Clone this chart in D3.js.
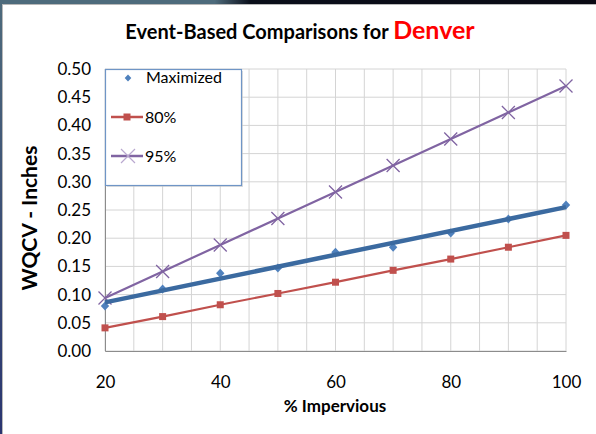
<!DOCTYPE html>
<html>
<head>
<meta charset="utf-8">
<script src="https://cdn.jsdelivr.net/npm/d3@7"></script>
<style>
  body { margin: 0; background: #fff; }
  svg { display: block; font-family: Lato, "Open Sans", sans-serif; }
</style>
</head>
<body>
<script>
// data
let impervious = [20, 30, 40, 50, 60, 70, 80, 90, 100];
let maximized = [0.080, 0.110, 0.138, 0.147, 0.175, 0.184, 0.209, 0.234, 0.259];
let pct80 = [0.041, 0.061, 0.082, 0.102, 0.122, 0.143, 0.163, 0.184, 0.205];
let pct95 = [0.094, 0.141, 0.188, 0.235, 0.282, 0.329, 0.376, 0.423, 0.470];
let yTicks = [0, 0.05, 0.10, 0.15, 0.20, 0.25, 0.30, 0.35, 0.40, 0.45, 0.50];
let xTicks = [20, 40, 60, 80, 100];
let xGrid = d3.range(20, 101, 5);

let W = 596, H = 434;
let margin = { top: 69, right: 30, bottom: 83, left: 105 };
let width = W - margin.left - margin.right;
let height = H - margin.top - margin.bottom;

let root = d3.select('body').append('svg')
    .attr('width', W)
    .attr('height', H);

// slide frame bits
let defs = root.append('defs');
let lg = defs.append('linearGradient').attr('id', 'edge').attr('x1', 0).attr('y1', 0).attr('x2', 0).attr('y2', 1);
lg.append('stop').attr('offset', 0).attr('stop-color', '#4e6b7c');
lg.append('stop').attr('offset', 1).attr('stop-color', '#2a3570');
let tg = defs.append('linearGradient').attr('id', 'topedge');
tg.append('stop').attr('offset', 0).attr('stop-color', '#4e6b7c');
tg.append('stop').attr('offset', 0.36).attr('stop-color', '#4e6b7c');
tg.append('stop').attr('offset', 0.42).attr('stop-color', '#0a0e1a');
tg.append('stop').attr('offset', 1).attr('stop-color', '#0a0a14');
root.append('rect').attr('x', 0).attr('y', 0).attr('width', W).attr('height', 4).attr('fill', 'url(#topedge)');
root.append('rect').attr('x', 0).attr('y', 4).attr('width', W).attr('height', 1).attr('fill', '#b8b8b8');
root.append('rect').attr('x', 0).attr('y', 0).attr('width', 2).attr('height', H).attr('fill', 'url(#edge)');
root.append('rect').attr('x', 2).attr('y', 4).attr('width', 1).attr('height', H).attr('fill', '#b8b8b8');

// title
let title = root.append('text')
    .attr('x', 300).attr('y', 39)
    .attr('text-anchor', 'middle')
    .attr('font-weight', 'bold');
title.append('tspan').attr('font-size', 20).attr('fill', '#000').text('Event-Based Comparisons for ');
title.append('tspan').attr('font-size', 25).attr('fill', '#ff0000').text('Denver');

let svg = root.append('g')
    .attr('transform', 'translate(' + margin.left + ',' + margin.top + ')');

let x = d3.scaleLinear().domain([20, 100]).range([0, width]);
let y = d3.scaleLinear().domain([0, 0.5]).range([height, 0]);

// gridlines
svg.append('g').selectAll('line').data(yTicks).enter().append('line')
    .attr('x1', 0).attr('x2', width)
    .attr('y1', d => y(d)).attr('y2', d => y(d))
    .attr('stroke', '#d4d4d4');
svg.append('g').selectAll('line').data(xGrid).enter().append('line')
    .attr('y1', 0).attr('y2', height)
    .attr('x1', d => x(d)).attr('x2', d => x(d))
    .attr('stroke', '#d4d4d4');

// axes
let yAxis = d3.axisLeft(y).tickValues(yTicks).tickFormat(d3.format('.2f')).tickSize(0).tickPadding(14);
let xAxis = d3.axisBottom(x).tickValues(xTicks).tickSize(0).tickPadding(25);

let gy = svg.append('g').call(yAxis);
let gx = svg.append('g').attr('transform', 'translate(0,' + height + ')').call(xAxis);
[gx, gy].forEach(function(g) {
  g.select('.domain').attr('stroke', '#8c8c8c');
  g.selectAll('text').attr('font-size', 17).attr('fill', '#000').attr('font-family', 'Lato, sans-serif');
});

// axis titles
root.append('text')
    .attr('x', 335).attr('y', 412)
    .attr('text-anchor', 'middle')
    .attr('font-weight', 'bold').attr('font-size', 17)
    .text('% Impervious');
root.append('text')
    .attr('transform', 'translate(37,218) rotate(-90)')
    .attr('text-anchor', 'middle')
    .attr('font-weight', 'bold').attr('font-size', 21)
    .text('WQCV - Inches');

let line = d3.line()
  .x(function(d){ return x(d[0]); })
  .y(function(d){ return y(d[1]); });

function pairs(vals) {
  return impervious.map(function(v, i){ return [v, vals[i]]; });
}

// linear trend of the maximized series
let mx = d3.mean(impervious), my = d3.mean(maximized);
let slope = d3.sum(impervious, (v, i) => (v - mx) * (maximized[i] - my)) / d3.sum(impervious, v => (v - mx) * (v - mx));
let trend = [[20, my + slope * (20 - mx)], [100, my + slope * (100 - mx)]];

// 80% line
svg.append('path').datum(pairs(pct80))
    .attr('fill', 'none').attr('stroke', '#c0504d').attr('stroke-width', 2.2)
    .attr('d', line);
svg.append('g').selectAll('rect').data(pairs(pct80)).enter().append('rect')
    .attr('x', d => x(d[0]) - 3.5).attr('y', d => y(d[1]) - 3.5)
    .attr('width', 7).attr('height', 7)
    .attr('fill', '#c0504d');

// 95% line
svg.append('path').datum(pairs(pct95))
    .attr('fill', 'none').attr('stroke', '#8064a2').attr('stroke-width', 2.2)
    .attr('d', line);
svg.append('g').selectAll('path').data(pairs(pct95)).enter().append('path')
    .attr('d', d => {
      let cx = x(d[0]), cy = y(d[1]), r = 6.5;
      return 'M' + (cx - r) + ',' + (cy - r) + 'L' + (cx + r) + ',' + (cy + r) +
             'M' + (cx - r) + ',' + (cy + r) + 'L' + (cx + r) + ',' + (cy - r);
    })
    .attr('stroke', '#8064a2').attr('stroke-width', 1.3);

// maximized points + trendline
let diamond = 'M0,-4.5L4.2,0L0,4.5L-4.2,0Z';
svg.append('g').selectAll('path').data(pairs(maximized)).enter().append('path')
    .attr('d', diamond)
    .attr('transform', d => 'translate(' + x(d[0]) + ',' + y(d[1]) + ')')
    .attr('fill', '#4f81bd');
svg.append('path').datum(trend)
    .attr('fill', 'none').attr('stroke', '#3b6aa0').attr('stroke-width', 4.5)
    .attr('d', line);

// legend
let leg = root.append('g').attr('transform', 'translate(105,69)');
leg.append('rect').attr('x', 2).attr('y', 2).attr('width', 136).attr('height', 116).attr('fill', '#c8c8c8').attr('opacity', 0.6);
leg.append('rect').attr('x', 0.5).attr('y', 0.5).attr('width', 136).attr('height', 116)
    .attr('fill', '#fff').attr('stroke', '#6f95c6').attr('stroke-width', 1.2);
leg.append('path').attr('d', 'M0,-3.5L3.3,0L0,3.5L-3.3,0Z').attr('transform', 'translate(23,9)').attr('fill', '#4f81bd');
leg.append('text').attr('x', 41).attr('y', 14).attr('font-size', 16).text('Maximized');
leg.append('line').attr('x1', 6).attr('x2', 38).attr('y1', 48).attr('y2', 48).attr('stroke', '#c0504d').attr('stroke-width', 2.5);
leg.append('rect').attr('x', 18.5).attr('y', 44.5).attr('width', 7).attr('height', 7).attr('fill', '#c0504d');
leg.append('text').attr('x', 40).attr('y', 54).attr('font-size', 16).text('80%');
leg.append('line').attr('x1', 6).attr('x2', 38).attr('y1', 87).attr('y2', 87).attr('stroke', '#8064a2').attr('stroke-width', 2.5);
leg.append('path').attr('d', 'M16,80L30,94M16,94L30,80').attr('stroke', '#b9a8cf').attr('stroke-width', 1.2);
leg.append('text').attr('x', 40).attr('y', 93).attr('font-size', 16).text('95%');
</script>
</body>
</html>
